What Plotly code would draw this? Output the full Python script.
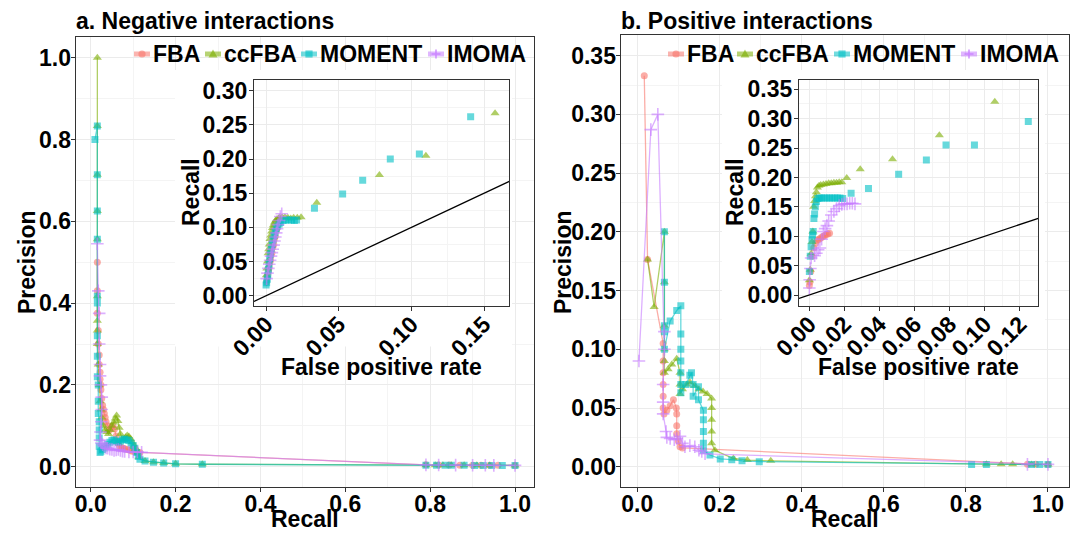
import plotly.graph_objects as go

W, H = 1077, 533

SERIES = ["FBA", "ccFBA", "MOMENT", "IMOMA"]
COLORS = {"FBA": "#F8766D", "ccFBA": "#7CAE00", "MOMENT": "#00BFC4", "IMOMA": "#C77CFF"}
SYMBOLS = {"FBA": "circle", "ccFBA": "triangle-up", "MOMENT": "square", "IMOMA": "cross-thin"}

PANEL_TITLES = ["a. Negative interactions", "b. Positive interactions"]
MAIN_X_TITLE = "Recall"
MAIN_Y_TITLE = "Precision"
INSET_X_TITLE = "False positive rate"
INSET_Y_TITLE = "Recall"

# ---------------- a. Negative interactions: precision vs recall ----------------
neg_FBA_rec = [0.0156, 0.0156, 0.0156, 0.0178, 0.0178, 0.020, 0.020, 0.022, 0.022, 0.024, 0.024, 0.026, 0.028,
               0.030, 0.032, 0.034, 0.036, 0.040, 0.044, 0.048, 0.052, 0.056, 0.060, 0.064, 0.068, 0.072, 0.076,
               0.080, 0.086, 0.092, 0.098, 0.104, 0.110, 0.116, 0.790, 0.820, 0.845, 0.870, 0.900, 0.920, 0.940,
               0.960, 1.000]
neg_FBA_prec = [0.500, 0.430, 0.375, 0.333, 0.300, 0.273, 0.250, 0.231, 0.214, 0.200, 0.188, 0.167, 0.150,
                0.140, 0.130, 0.120, 0.110, 0.100, 0.090, 0.095, 0.100, 0.092, 0.075, 0.058, 0.050, 0.046, 0.045,
                0.044, 0.042, 0.040, 0.038, 0.037, 0.036, 0.035, 0.0045, 0.0042, 0.0040, 0.0038, 0.0036, 0.0035,
                0.0034, 0.0033, 0.0032]

neg_ccFBA_rec = [0.0156, 0.0156, 0.0156, 0.0156, 0.0156, 0.0156, 0.0156, 0.0156, 0.0156, 0.0178, 0.020, 0.022,
                 0.024, 0.026, 0.030, 0.034, 0.038, 0.042, 0.046, 0.050, 0.054, 0.058, 0.061, 0.064, 0.067, 0.070,
                 0.074, 0.078, 0.082, 0.086, 0.090, 0.094, 0.098, 0.102, 0.106, 0.110, 0.114, 0.128, 0.148, 0.172,
                 0.200, 0.263, 0.790, 0.812, 0.830, 0.850, 0.880, 0.910, 0.940, 1.000]
neg_ccFBA_prec = [1.000, 0.833, 0.714, 0.625, 0.556, 0.417, 0.357, 0.333, 0.300, 0.250, 0.200, 0.160, 0.140,
                  0.120, 0.100, 0.090, 0.085, 0.080, 0.090, 0.100, 0.108, 0.118, 0.125, 0.112, 0.095, 0.080,
                  0.068, 0.066, 0.072, 0.076, 0.074, 0.068, 0.060, 0.052, 0.045, 0.035, 0.024, 0.014, 0.011,
                  0.009, 0.007, 0.006, 0.0035, 0.0034, 0.0034, 0.0034, 0.0033, 0.0033, 0.0032, 0.0031]

neg_MOMENT_rec = [0.0100, 0.0156, 0.0156, 0.0156, 0.0156, 0.0156, 0.0156, 0.0156, 0.0156, 0.0156, 0.0178,
                  0.0178, 0.0178, 0.0200, 0.0200, 0.0200, 0.0200, 0.0220, 0.0240, 0.0280, 0.0320, 0.0360, 0.0400,
                  0.0450, 0.0500, 0.0550, 0.0600, 0.0650, 0.0700, 0.0750, 0.0800, 0.0850, 0.0900, 0.0950, 0.1000,
                  0.1040, 0.1080, 0.1120, 0.1160, 0.128, 0.148, 0.172, 0.200, 0.263, 0.790, 0.815, 0.835, 0.850,
                  0.880, 0.905, 0.925, 0.945, 0.970, 1.000]
neg_MOMENT_prec = [0.800, 0.833, 0.714, 0.625, 0.556, 0.417, 0.400, 0.320, 0.270, 0.220, 0.200, 0.160, 0.130,
                   0.110, 0.090, 0.070, 0.050, 0.035, 0.038, 0.042, 0.046, 0.050, 0.055, 0.060, 0.064, 0.066,
                   0.062, 0.060, 0.062, 0.066, 0.068, 0.066, 0.064, 0.058, 0.052, 0.045, 0.035, 0.025, 0.018,
                   0.014, 0.011, 0.009, 0.007, 0.006, 0.0035, 0.0034, 0.0034, 0.0033, 0.0033, 0.0032, 0.0032,
                   0.0031, 0.0031, 0.0030]

neg_IMOMA_rec = [0.0156, 0.0178, 0.0200, 0.0200, 0.0220, 0.0220, 0.0240, 0.0260, 0.0260, 0.0250, 0.0230, 0.0220,
                 0.0250, 0.0280, 0.0320, 0.0360, 0.0400, 0.0450, 0.0500, 0.0550, 0.0600, 0.0650, 0.0700, 0.0750,
                 0.0800, 0.0900, 0.1000, 0.1100, 0.1200, 0.790, 0.820, 0.860, 0.900, 0.930, 0.950, 1.000]
neg_IMOMA_prec = [0.545, 0.430, 0.375, 0.300, 0.250, 0.222, 0.200, 0.170, 0.140, 0.110, 0.085, 0.065, 0.058,
                  0.054, 0.050, 0.046, 0.045, 0.043, 0.042, 0.040, 0.041, 0.042, 0.040, 0.038, 0.037, 0.036,
                  0.036, 0.036, 0.035, 0.0045, 0.0040, 0.0038, 0.0036, 0.0034, 0.0033, 0.0032]

# ---------------- b. Positive interactions: precision vs recall ----------------
pos_FBA_rec = [0.017, 0.025, 0.063, 0.063, 0.063, 0.063, 0.063, 0.063, 0.065, 0.072, 0.080, 0.088, 0.095, 0.096,
               0.096, 0.096, 0.100, 0.104, 0.110, 0.950, 0.970, 1.000]
pos_FBA_prec = [0.333, 0.1765, 0.105, 0.090, 0.080, 0.070, 0.060, 0.050, 0.045, 0.048, 0.052, 0.057, 0.050,
                0.045, 0.035, 0.028, 0.022, 0.017, 0.016, 0.0021, 0.0021, 0.0020]

pos_ccFBA_rec = [0.025, 0.041, 0.066, 0.066, 0.066, 0.066, 0.066, 0.066, 0.075, 0.084, 0.096, 0.104, 0.104,
                 0.104, 0.110, 0.120, 0.128, 0.140, 0.150, 0.160, 0.170, 0.181, 0.181, 0.181, 0.181, 0.181,
                 0.189, 0.234, 0.268, 0.325, 0.850, 0.886, 0.914, 0.960, 1.000]
pos_ccFBA_prec = [0.1765, 0.136, 0.200, 0.157, 0.120, 0.100, 0.090, 0.080, 0.083, 0.087, 0.092, 0.080, 0.070,
                  0.062, 0.066, 0.070, 0.072, 0.069, 0.066, 0.064, 0.062, 0.058, 0.050, 0.040, 0.030, 0.020,
                  0.014, 0.007, 0.0057, 0.0050, 0.0022, 0.0021, 0.0021, 0.0020, 0.0020]

pos_MOMENT_rec = [0.066, 0.066, 0.066, 0.066, 0.066, 0.080, 0.096, 0.106, 0.106, 0.106, 0.106, 0.106, 0.106,
                  0.106, 0.118, 0.128, 0.132, 0.136, 0.136, 0.149, 0.149, 0.161, 0.161, 0.161, 0.161, 0.161,
                  0.177, 0.202, 0.230, 0.255, 0.297, 0.814, 0.850, 0.960, 0.980, 1.000]
pos_MOMENT_prec = [0.200, 0.157, 0.120, 0.115, 0.100, 0.124, 0.133, 0.137, 0.113, 0.100, 0.090, 0.080, 0.070,
                   0.063, 0.070, 0.078, 0.080, 0.070, 0.060, 0.068, 0.057, 0.048, 0.040, 0.030, 0.020, 0.014,
                   0.010, 0.0066, 0.0060, 0.0050, 0.0043, 0.0019, 0.0019, 0.0018, 0.0018, 0.0018]

pos_IMOMA_rec = [0.004, 0.033, 0.050, 0.066, 0.066, 0.063, 0.063, 0.063, 0.070, 0.072, 0.080, 0.090, 0.096,
                 0.104, 0.110, 0.116, 0.128, 0.140, 0.150, 0.157, 0.165, 0.950, 1.000]
pos_IMOMA_prec = [0.090, 0.287, 0.300, 0.115, 0.100, 0.070, 0.055, 0.045, 0.030, 0.025, 0.024, 0.023, 0.024,
                  0.026, 0.020, 0.017, 0.018, 0.017, 0.014, 0.013, 0.011, 0.0020, 0.0020]

# ---------------- insets: recall vs false positive rate ----------------
neg_in_FBA_fpr = [0.0004, 0.0008, 0.0012, 0.0017, 0.0021, 0.0025, 0.0031, 0.0034, 0.0041, 0.0046, 0.0053,
                  0.0057, 0.0064, 0.0071, 0.0077, 0.0087, 0.0094]
neg_in_FBA_rec = [0.020, 0.027, 0.031, 0.037, 0.041, 0.048, 0.052, 0.059, 0.063, 0.071, 0.075, 0.083, 0.087,
                  0.095, 0.099, 0.106, 0.110]

neg_in_ccFBA_fpr = [0.0002, 0.0006, 0.0010, 0.0014, 0.0018, 0.0022, 0.0027, 0.0032, 0.0038, 0.0044, 0.0050,
                    0.0058, 0.0066, 0.0075, 0.0085, 0.0095, 0.0110, 0.0130, 0.0150, 0.0170, 0.0190, 0.0215,
                    0.0241, 0.0349, 0.0780, 0.1100, 0.1576]
neg_in_ccFBA_rec = [0.030, 0.040, 0.050, 0.062, 0.068, 0.075, 0.083, 0.088, 0.094, 0.099, 0.103, 0.107, 0.110,
                    0.112, 0.113, 0.114, 0.115, 0.115, 0.114, 0.113, 0.114, 0.114, 0.115, 0.136, 0.1766, 0.2049,
                    0.267]

neg_in_MOMENT_fpr = [0.0000, 0.0004, 0.0008, 0.0012, 0.0016, 0.0020, 0.0025, 0.0030, 0.0036, 0.0042, 0.0048,
                     0.0055, 0.0062, 0.0070, 0.0080, 0.0090, 0.0100, 0.0117, 0.0135, 0.0155, 0.0175, 0.0195,
                     0.0210, 0.0333, 0.0527, 0.0665, 0.0855, 0.1055, 0.1408]
neg_in_MOMENT_rec = [0.0157, 0.019, 0.024, 0.030, 0.038, 0.046, 0.054, 0.061, 0.068, 0.075, 0.082, 0.088,
                     0.093, 0.098, 0.102, 0.105, 0.107, 0.110, 0.111, 0.111, 0.111, 0.110, 0.111, 0.128, 0.1488,
                     0.169, 0.200, 0.2073, 0.262]

neg_in_IMOMA_fpr = [0.0004, 0.0010, 0.0016, 0.0022, 0.0028, 0.0034, 0.0040, 0.0046, 0.0052, 0.0058, 0.0064,
                    0.0070, 0.0076, 0.0082, 0.0090, 0.0098, 0.0108]
neg_in_IMOMA_rec = [0.025, 0.033, 0.040, 0.046, 0.052, 0.058, 0.063, 0.068, 0.074, 0.080, 0.086, 0.092, 0.098,
                    0.104, 0.110, 0.116, 0.120]

pos_in_FBA_fpr = [0.0000, 0.0003, 0.0008, 0.0015, 0.0025, 0.0035, 0.0045, 0.0055, 0.0065, 0.0075, 0.0085,
                  0.0095, 0.0105, 0.0115]
pos_in_FBA_rec = [0.016, 0.022, 0.040, 0.066, 0.080, 0.088, 0.093, 0.095, 0.097, 0.099, 0.101, 0.103, 0.104,
                  0.105]

pos_in_ccFBA_fpr = [0.0000, 0.0005, 0.0010, 0.0015, 0.0020, 0.0025, 0.0030, 0.0035, 0.0040, 0.0046, 0.0055,
                    0.0065, 0.0080, 0.0095, 0.0110, 0.0125, 0.0140, 0.0155, 0.0170, 0.0185, 0.0213, 0.0290,
                    0.0474, 0.0741, 0.1057]
pos_in_ccFBA_rec = [0.025, 0.043, 0.070, 0.090, 0.108, 0.150, 0.160, 0.168, 0.175, 0.183, 0.186, 0.187, 0.188,
                    0.189, 0.190, 0.190, 0.191, 0.191, 0.192, 0.192, 0.199, 0.214, 0.231, 0.272, 0.329]

pos_in_MOMENT_fpr = [0.0000, 0.0005, 0.0010, 0.0015, 0.0018, 0.0022, 0.0026, 0.0030, 0.0034, 0.0040, 0.0048,
                     0.0058, 0.0070, 0.0085, 0.0100, 0.0115, 0.0130, 0.0145, 0.0160, 0.0175, 0.0190, 0.0238,
                     0.0337, 0.0509, 0.0667, 0.0779, 0.0941, 0.1248]
pos_in_MOMENT_rec = [0.040, 0.066, 0.082, 0.094, 0.102, 0.108, 0.130, 0.138, 0.150, 0.159, 0.164, 0.165, 0.165,
                     0.165, 0.165, 0.165, 0.165, 0.165, 0.165, 0.165, 0.164, 0.173, 0.181, 0.2053, 0.2297,
                     0.255, 0.255, 0.295]

pos_in_IMOMA_fpr = [0.0000, 0.0002, 0.0006, 0.0010, 0.0030, 0.0040, 0.0050, 0.0060, 0.0070, 0.0080, 0.0090,
                    0.0100, 0.0110, 0.0125, 0.0140, 0.0155, 0.0170, 0.0185, 0.0200, 0.0215, 0.0230, 0.0245,
                    0.0260]
pos_in_IMOMA_rec = [0.012, 0.026, 0.045, 0.063, 0.067, 0.071, 0.077, 0.080, 0.095, 0.108, 0.113, 0.118, 0.126,
                    0.136, 0.142, 0.147, 0.152, 0.154, 0.155, 0.155, 0.156, 0.156, 0.155]

MAIN = [
    {"FBA": (neg_FBA_rec, neg_FBA_prec), "ccFBA": (neg_ccFBA_rec, neg_ccFBA_prec),
     "MOMENT": (neg_MOMENT_rec, neg_MOMENT_prec), "IMOMA": (neg_IMOMA_rec, neg_IMOMA_prec)},
    {"FBA": (pos_FBA_rec, pos_FBA_prec), "ccFBA": (pos_ccFBA_rec, pos_ccFBA_prec),
     "MOMENT": (pos_MOMENT_rec, pos_MOMENT_prec), "IMOMA": (pos_IMOMA_rec, pos_IMOMA_prec)},
]
INSET = [
    {"FBA": (neg_in_FBA_fpr, neg_in_FBA_rec), "ccFBA": (neg_in_ccFBA_fpr, neg_in_ccFBA_rec),
     "MOMENT": (neg_in_MOMENT_fpr, neg_in_MOMENT_rec), "IMOMA": (neg_in_IMOMA_fpr, neg_in_IMOMA_rec)},
    {"FBA": (pos_in_FBA_fpr, pos_in_FBA_rec), "ccFBA": (pos_in_ccFBA_fpr, pos_in_ccFBA_rec),
     "MOMENT": (pos_in_MOMENT_fpr, pos_in_MOMENT_rec), "IMOMA": (pos_in_IMOMA_fpr, pos_in_IMOMA_rec)},
]

# ---------------- layout geometry (pixels) ----------------
FONT = "Liberation Sans, Arial, sans-serif"
FS = 23
GRID = "#EBEBEB"
MINOR = "#F4F4F4"
BORDER = "#333333"

def rgba(h, a):
    h = h.lstrip("#")
    return "rgba(%d,%d,%d,%.2f)" % (int(h[0:2], 16), int(h[2:4], 16), int(h[4:6], 16), a)

def dx(p0, p1):
    return [p0 / W, p1 / W]

def dy(top, bottom):
    return [1 - bottom / H, 1 - top / H]

def px(x):
    return x / W

def py(y):
    return 1 - y / H

fig = go.Figure()

def add(x, y, name, xa, ya, lines):
    c = COLORS[name]
    mk = dict(symbol=SYMBOLS[name], size=7, color=rgba(c, 0.6), line=dict(width=0))
    if name == "IMOMA":
        mk = dict(symbol="cross-thin", size=9, color=rgba(c, 0.6), line=dict(width=1.6, color=rgba(c, 0.6)))
    if name == "ccFBA":
        mk["size"] = 8
    fig.add_trace(go.Scatter(
        x=x, y=y, name=name, mode="lines+markers" if lines else "markers",
        line=dict(color=rgba(c, 0.6), width=1.3), marker=mk,
        xaxis=xa, yaxis=ya, showlegend=False, hoverinfo="x+y+name"))

# main panels
for i, panel in enumerate(MAIN):
    xa, ya = ("x", "y") if i == 0 else ("x2", "y2")
    for s in SERIES:
        add(panel[s][0], panel[s][1], s, xa, ya, True)

# white viewports behind insets (empty subplots)
fig.add_trace(go.Scatter(x=[None], y=[None], xaxis="x3", yaxis="y3", showlegend=False, hoverinfo="skip"))
fig.add_trace(go.Scatter(x=[None], y=[None], xaxis="x4", yaxis="y4", showlegend=False, hoverinfo="skip"))

# insets
INSET_X_RANGE = [[-0.0083, 0.1674], [-0.0059, 0.1305]]
INSET_Y_RANGE = [[-0.0146, 0.3157], [-0.0182, 0.3658]]
for i, panel in enumerate(INSET):
    xa, ya = ("x5", "y5") if i == 0 else ("x6", "y6")
    # diagonal y = x (random classifier)
    fig.add_trace(go.Scatter(x=INSET_X_RANGE[i], y=INSET_X_RANGE[i], mode="lines",
                             line=dict(color="black", width=1.3), xaxis=xa, yaxis=ya,
                             showlegend=False, hoverinfo="skip"))
    for s in SERIES:
        add(panel[s][0], panel[s][1], s, xa, ya, False)

def axis(domain, rng, dtick, minor, fmt, anchor, angle=None, lab_off=0):
    d = dict(domain=domain, range=rng, anchor=anchor, tick0=0, dtick=dtick, tickformat=fmt,
             automargin=False,
             showgrid=True, gridcolor=GRID, gridwidth=1,
             minor=dict(tick0=0, dtick=minor, showgrid=True, gridcolor=MINOR, gridwidth=0.8, ticks=""),
             zeroline=False, showline=True, mirror=True, linecolor=BORDER, linewidth=1.3,
             ticks="outside", ticklen=4, tickwidth=1.2, tickcolor=BORDER, ticklabelstandoff=lab_off,
             tickfont=dict(family=FONT, size=FS, color="black", weight="bold"))
    if angle is not None:
        d["tickangle"] = angle
    return d

hidden = dict(visible=False, showgrid=False, zeroline=False, range=[0, 1], fixedrange=True, automargin=False)

fig.update_layout(
    width=W, height=H, margin=dict(l=0, r=0, t=0, b=0, autoexpand=False),
    paper_bgcolor="white", plot_bgcolor="white",
    font=dict(family=FONT, size=FS, color="black", weight="bold"),
    showlegend=False,
    xaxis=axis(dx(75.7, 534), [-0.0354, 1.0447], 0.2, 0.1, ".1f", "y", lab_off=-7),
    yaxis=axis(dy(37.3, 486.7), [-0.0489, 1.0499], 0.2, 0.1, ".1f", "x", lab_off=-5),
    xaxis2=axis(dx(620.7, 1069), [-0.0404, 1.0512], 0.2, 0.1, ".1f", "y2", lab_off=-7),
    yaxis2=axis(dy(35, 486.7), [-0.0170, 0.3676], 0.05, 0.025, ".2f", "x2", lab_off=-5),
    xaxis3=dict(hidden, domain=dx(175, 512), anchor="y3"),
    yaxis3=dict(hidden, domain=dy(70, 346.5), anchor="x3"),
    xaxis4=dict(hidden, domain=dx(722, 1045), anchor="y4"),
    yaxis4=dict(hidden, domain=dy(70, 346.5), anchor="x4"),
    xaxis5=axis(dx(254, 509.3), INSET_X_RANGE[0], 0.05, 0.025, ".2f", "y5", angle=-45, lab_off=-9),
    yaxis5=axis(dy(80, 305.7), INSET_Y_RANGE[0], 0.05, 0.025, ".2f", "x5", lab_off=-3),
    xaxis6=axis(dx(799, 1038.3), INSET_X_RANGE[1], 0.02, 0.01, ".2f", "y6", angle=-45, lab_off=-9),
    yaxis6=axis(dy(80, 305.7), INSET_Y_RANGE[1], 0.05, 0.025, ".2f", "x6", lab_off=-3),
)

def text(x, y, t, xanchor="center", yanchor="middle", angle=0, yshift=0):
    fig.add_annotation(x=px(x), y=py(y), xref="paper", yref="paper", text=t, showarrow=False,
                       xanchor=xanchor, yanchor=yanchor, textangle=angle, borderpad=0, yshift=yshift,
                       font=dict(family=FONT, size=FS, color="black", weight="bold"))

# panel titles
for tx, t in zip([75, 620], PANEL_TITLES):
    text(tx, 21, t, xanchor="left")

# axis titles
for cx in [305, 845]:
    text(cx, 533, MAIN_X_TITLE, yanchor="bottom")
for cx in [27, 563]:
    text(cx, 262, MAIN_Y_TITLE, angle=-90)
for cx in [381.7, 918.7]:
    text(cx, 367, INSET_X_TITLE)
for cx in [191, 735]:
    text(cx, 192, INSET_Y_TITLE, angle=-90)

# legends (one per panel, horizontal, inside the top of each panel)
LEGEND_TEXT_X = [[153, 224, 320, 447], [687, 756, 853, 980]]
LEGEND_Y = [54, 54]
shapes = []
for p in range(2):
    yc = LEGEND_Y[p]
    for s, tx in zip(SERIES, LEGEND_TEXT_X[p]):
        c = COLORS[s]
        x0, x1 = tx - 19, tx - 3
        cx = (x0 + x1) / 2
        shapes.append(dict(type="line", xref="paper", yref="paper", x0=px(x0), x1=px(x1),
                           y0=py(yc), y1=py(yc), line=dict(color=rgba(c, 0.55), width=5)))
        r = 3.6
        if s == "FBA":
            shapes.append(dict(type="circle", xref="paper", yref="paper", x0=px(cx - r), x1=px(cx + r),
                               y0=py(yc + r), y1=py(yc - r), fillcolor=rgba(c, 0.6), line=dict(width=0)))
        elif s == "MOMENT":
            shapes.append(dict(type="rect", xref="paper", yref="paper", x0=px(cx - r), x1=px(cx + r),
                               y0=py(yc + r), y1=py(yc - r), fillcolor=rgba(c, 0.6), line=dict(width=0)))
        elif s == "ccFBA":
            path = "M %f %f L %f %f L %f %f Z" % (px(cx - 4.5), py(yc + 3.5), px(cx + 4.5), py(yc + 3.5),
                                                 px(cx), py(yc - 4.5))
            shapes.append(dict(type="path", xref="paper", yref="paper", path=path,
                               fillcolor=rgba(c, 0.6), line=dict(width=0)))
        else:
            path = "M %f %f L %f %f M %f %f L %f %f" % (px(cx - 4.5), py(yc), px(cx + 4.5), py(yc),
                                                         px(cx), py(yc - 4.5), px(cx), py(yc + 4.5))
            shapes.append(dict(type="path", xref="paper", yref="paper", path=path,
                               line=dict(color=rgba(c, 0.8), width=1.6)))
        text(tx - 1, yc, s, xanchor="left")
fig.update_layout(shapes=shapes)

fig.write_html("out.html", config={"displayModeBar": False},
               post_script="document.body.style.margin='0';document.body.style.overflow='hidden';")
